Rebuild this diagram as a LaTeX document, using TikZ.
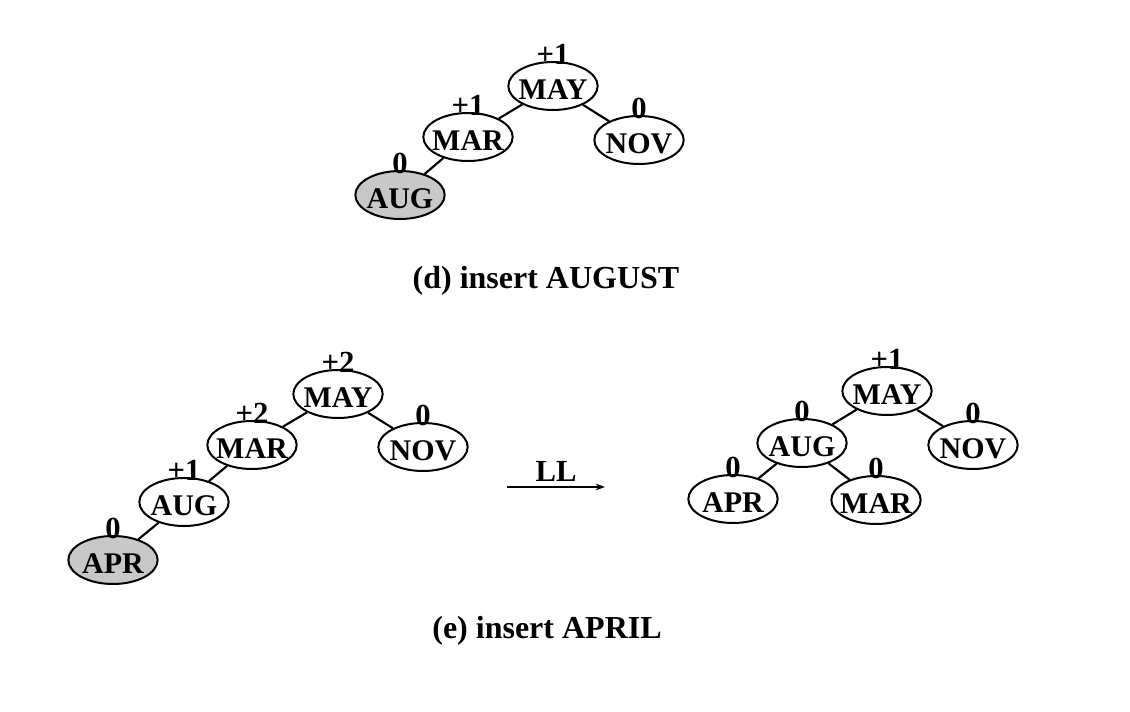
\documentclass[tikz,border=0pt]{standalone}
\usepackage{fontspec}
\setmainfont{Liberation Serif}
\usepackage{xcolor}
\usepackage{tikz}
\usetikzlibrary{shapes.geometric, arrows.meta, positioning, calc}
\definecolor{newgray}{RGB}{200,200,200}
\tikzset{
  avlnode/.style={ellipse, minimum width=67pt, minimum height=36pt, inner xsep=-6pt, inner ysep=0pt, text height=20pt, text depth=0pt, text centered, draw=black, line width=1.5pt, fill=white, font=\fontsize{22.5}{22.5}\selectfont\bfseries},
  newnode/.style={avlnode, fill=newgray},
  balance/.style={inner sep=0pt, font=\fontsize{23}{23}\selectfont\bfseries},
  caption/.style={font=\fontsize{24}{24}\selectfont\bfseries},
  edge/.style={line width=1.6pt},
  arrow/.style={line width=1.6pt, -{Stealth[length=7pt, width=5pt]}}
}

\begin{document}
\begin{tikzpicture}[x=0.75pt, y=-0.75pt, label distance=-3pt]
        \useasboundingbox (0,0) rectangle (1130,712);

        % Nodes (d)
        \node (d_may) [avlnode, label={[balance]above:{+1}}] at (553,86) {MAY};
        \node (d_mar) [avlnode, label={[balance]above:{+1}}] at (468,137) {MAR};
        \node (d_nov) [avlnode, label={[balance]above:{0}}] at (639,140) {NOV};
        \node (d_aug) [newnode, label={[balance]above:{0}}] at (400,195) {AUG};
        \node (d_caption) [caption] at (546,281) {(d) insert AUGUST};

        % Nodes (e), before rotation
        \node (e_may) [avlnode, label={[balance]above:{+2}}] at (338,394) {MAY};
        \node (e_mar) [avlnode, label={[balance]above:{+2}}] at (252,445) {MAR};
        \node (e_nov) [avlnode, label={[balance]above:{0}}] at (423,447) {NOV};
        \node (e_aug) [avlnode, label={[balance]above:{+1}}] at (184,502) {AUG};
        \node (e_apr) [newnode, label={[balance]above:{0}}] at (113,560) {APR};

        % Nodes (e), after rotation
        \node (r_may) [avlnode, label={[balance]above:{+1}}] at (887,391) {MAY};
        \node (r_aug) [avlnode, label={[balance]above:{0}}] at (802,443) {AUG};
        \node (r_nov) [avlnode, label={[balance]above:{0}}] at (973,445) {NOV};
        \node (r_apr) [avlnode, label={[balance]above:{0}}] at (733,499) {APR};
        \node (r_mar) [avlnode, label={[balance]above:{0}}] at (876,500) {MAR};
        \node (e_caption) [caption] at (547,631) {(e) insert APRIL};

        \coordinate (ll_start) at (507,487);
        \coordinate (ll_end) at (605,487);

        % Paths (d)
        \draw [edge] (d_may) -- (d_mar);
        \draw [edge] (d_may) -- (d_nov);
        \draw [edge] (d_mar) -- (d_aug);

        % Paths (e)
        \draw [edge] (e_may) -- (e_mar);
        \draw [edge] (e_may) -- (e_nov);
        \draw [edge] (e_mar) -- (e_aug);
        \draw [edge] (e_aug) -- (e_apr);

        \draw [arrow] (ll_start) -- node (ll_label) [balance, above=3pt] {LL} (ll_end);

        \draw [edge] (r_may) -- (r_aug);
        \draw [edge] (r_may) -- (r_nov);
        \draw [edge] (r_aug) -- (r_apr);
        \draw [edge] (r_aug) -- (r_mar);
\end{tikzpicture}
\end{document}
